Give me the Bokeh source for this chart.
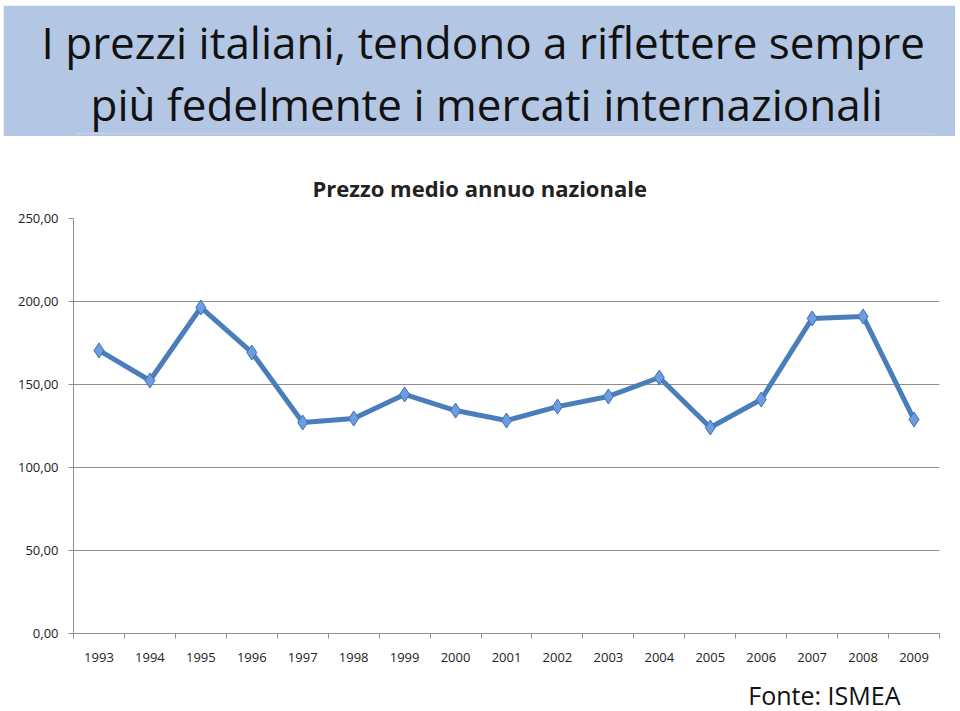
from bokeh.plotting import figure
from bokeh.layouts import column
from bokeh.models import FixedTicker, Range1d, Title, ColumnDataSource
from bokeh.core.properties import value
from bokeh.embed import file_html
from bokeh.resources import INLINE

# ---- data ----
years = [1993, 1994, 1995, 1996, 1997, 1998, 1999, 2000, 2001,
         2002, 2003, 2004, 2005, 2006, 2007, 2008, 2009]
prices = [170.5, 152.4, 196.4, 169.3, 127.1, 129.5, 144.0, 134.3, 128.3,
          136.7, 142.8, 154.2, 124.1, 141.0, 189.8, 191.0, 128.9]
y_ticks = [0, 50, 100, 150, 200, 250]
y_tick_labels = ["0,00", "50,00", "100,00", "150,00", "200,00", "250,00"]
title_lines = ["I prezzi italiani, tendono a riflettere sempre",
               "più fedelmente i mercati internazionali"]
chart_title = "Prezzo medio annuo nazionale"
source_note = "Fonte: ISMEA"

FONT = "Open Sans"
BANNER = "#b3c6e3"

# ---- banner (whole canvas filled) ----
banner = figure(width=952, height=131, output_backend="svg", toolbar_location=None,
                min_border_left=0, min_border_right=0, min_border_bottom=0,
                min_border_top=128, outline_line_color=None,
                background_fill_color=BANNER, border_fill_color=BANNER)
banner.margin = (5, 5, 0, 3)
banner.axis.visible = False
banner.grid.visible = False
# lines stack outward from the frame: add the lower line first
banner.add_layout(Title(text=title_lines[1], align="left", text_font=FONT,
                        text_font_size="44px", text_font_style="normal",
                        text_color="#111111", standoff=0, offset=14), "above")
banner.add_layout(Title(text=title_lines[0], align="left", text_font=FONT,
                        text_font_size="44px", text_font_style="normal",
                        text_color="#111111", standoff=0, offset=-35), "above")

# ---- chart ----
p = figure(width=960, height=535, output_backend="svg", toolbar_location=None,
           x_range=Range1d(years[0] - 0.5, years[-1] + 0.5),
           y_range=Range1d(0, 250),
           min_border_left=73, min_border_right=21,
           min_border_top=82, min_border_bottom=38,
           outline_line_color=None)

p.add_layout(Title(text=chart_title, align="left", text_font=FONT,
                   text_font_size="22px", text_font_style="bold",
                   text_color="#222222", standoff=32, offset=239), "above")

p.xgrid.visible = False
p.ygrid.ticker = FixedTicker(ticks=[50, 100, 150, 200])
p.ygrid.grid_line_color = "#8e8e8e"
p.ygrid.grid_line_width = 1

# y axis
p.yaxis.ticker = FixedTicker(ticks=y_ticks)
p.yaxis.major_label_overrides = {t: l for t, l in zip(y_ticks, y_tick_labels)}
p.yaxis.axis_line_color = "#8e8e8e"
p.yaxis.major_tick_line_color = "#8e8e8e"
p.yaxis.major_tick_out = 5
p.yaxis.major_tick_in = 0
p.yaxis.minor_tick_line_color = None
p.yaxis.major_label_standoff = 10
p.yaxis.major_label_text_font = FONT
p.yaxis.major_label_text_font_size = "13px"
p.yaxis.major_label_text_color = "#222222"

# x axis: labels at centers, ticks at category boundaries
bounds = [y - 0.5 for y in years] + [years[-1] + 0.5]
p.xaxis.ticker = FixedTicker(ticks=years, minor_ticks=bounds)
p.xaxis.major_label_overrides = {y: str(y) for y in years}
p.xaxis.axis_line_color = "#8e8e8e"
p.xaxis.major_tick_line_color = None
p.xaxis.major_tick_out = 0
p.xaxis.major_tick_in = 0
p.xaxis.minor_tick_line_color = "#8e8e8e"
p.xaxis.minor_tick_out = 5
p.xaxis.minor_tick_in = 0
p.xaxis.major_label_standoff = 14
p.xaxis.major_label_text_font = FONT
p.xaxis.major_label_text_font_size = "13px"
p.xaxis.major_label_text_color = "#222222"

src = ColumnDataSource(dict(x=years, y=prices))
p.line("x", "y", source=src, line_color="#4a7ebb", line_width=5, line_join="round")
p.scatter("x", "y", source=src, marker="diamond", size=15,
          fill_color="#6b9de0", line_color="#3f6fb0", line_width=1)

# ---- footer with the source note ----
footer = figure(width=960, height=40, output_backend="svg", toolbar_location=None,
                x_range=Range1d(0, 1), y_range=Range1d(0, 1),
                min_border_left=73, min_border_right=21,
                min_border_top=0, min_border_bottom=0,
                outline_line_color=None)
footer.axis.visible = False
footer.grid.visible = False
footer.text(x=[1], y=[0], text=[source_note], text_font=value(FONT),
            text_font_size="25px", text_align="right", text_baseline="alphabetic",
            x_offset=-39, y_offset=-17, text_color="#111111")

layout = column(banner, p, footer, spacing=0)
open("out.html", "w").write(file_html(layout, INLINE))
